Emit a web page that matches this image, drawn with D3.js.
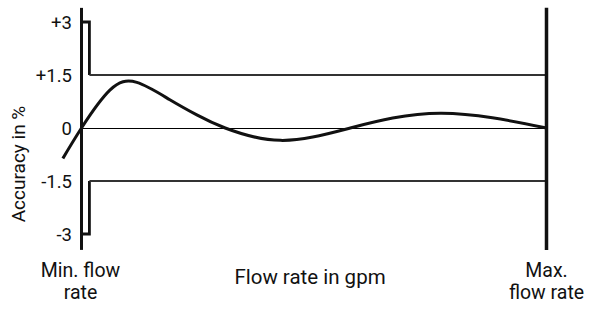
<!DOCTYPE html>
<html><head><meta charset="utf-8">
<script src="https://cdn.jsdelivr.net/npm/d3@7"></script>
<style>html,body{margin:0;padding:0;background:#fff;}svg{display:block;font-family:Roboto,"DejaVu Sans",sans-serif;}</style>
</head><body><svg id="c" width="592" height="311"></svg>
<script>
// Flow position as % of range (0 = min flow rate, 100 = max flow rate)
const curveX = [-4.0, 0, 6.1, 11.9, 19.0, 24.8, 30.9, 42.8, 57.8, 77.2, 100];
const curveY = [-0.86, 0, 1.07, 1.29, 0.80, 0.37, 0, -0.35, 0, 0.42, 0];
const upperLimitX = [0, 1.7, 1.7, 100];
const upperLimitY = [3, 3, 1.5, 1.5];
const lowerLimitX = [0, 1.7, 1.7, 100];
const lowerLimitY = [-3, -3, -1.5, -1.5];
const tickValues = [3, 1.5, 0, -1.5, -3];
const tickLabels = ["+3", "+1.5", "0", "-1.5", "-3"];
const axisExtent = [-3.45, 3.4];
const xLabelsMin = ["Min. flow", "rate"];
const xLabelsMax = ["Max.", "flow rate"];
const xTitle = "Flow rate in gpm";
const yTitle = "Accuracy in %";

const svg = d3.select("#c");
const x = d3.scaleLinear().domain([0, 100]).range([81.5, 546.5]);
const y = d3.scaleLinear().domain([-3, 3]).range([234, 22]);

// zero line
svg.append("line").attr("x1", x(0)).attr("x2", x(100)).attr("y1", y(0) + 0.5).attr("y2", y(0) + 0.5)
  .attr("stroke", "#000").attr("stroke-width", 1);

const line = d3.line().x(d => x(d[0])).y(d => y(d[1]));
// limits
[[upperLimitX, upperLimitY], [lowerLimitX, lowerLimitY]].forEach(([lx, ly]) => {
  const pts = lx.map((v, i) => [v, ly[i]]);
  svg.append("path").attr("d", line(pts.slice(0, 3))).attr("fill", "none")
    .attr("stroke", "#111").attr("stroke-width", 2.8).attr("stroke-linejoin", "miter");
  svg.append("path").attr("d", line(pts.slice(2))).attr("fill", "none")
    .attr("stroke", "#333").attr("stroke-width", 2.2);
});

// curve
const curvePts = curveX.map((v, i) => [v, curveY[i]]);
svg.append("path").attr("d", d3.line().curve(d3.curveNatural).x(d => x(d[0])).y(d => y(d[1]))(curvePts))
  .attr("fill", "none").attr("stroke", "#111").attr("stroke-width", 3);

// axes lines
svg.append("line").attr("x1", x(0)).attr("x2", x(0)).attr("y1", y(axisExtent[1])).attr("y2", y(axisExtent[0]))
  .attr("stroke", "#111").attr("stroke-width", 3);
svg.append("line").attr("x1", x(100)).attr("x2", x(100)).attr("y1", y(axisExtent[1])).attr("y2", y(axisExtent[0]))
  .attr("stroke", "#111").attr("stroke-width", 3.5);

// tick labels
svg.selectAll("text.tick").data(tickValues).enter().append("text")
  .attr("x", 72).attr("y", d => y(d)).attr("dy", "0.36em").attr("text-anchor", "end")
  .attr("font-size", 18.5).attr("fill", "#111").text((d, i) => tickLabels[i]);

// y title
svg.append("text").attr("transform", "translate(25,164) rotate(-90)").attr("text-anchor", "middle")
  .attr("font-size", 19).attr("fill", "#111").text(yTitle);

// x labels
xLabelsMin.forEach((t, i) => svg.append("text").attr("x", x(0) - 1).attr("y", 277 + i * 22)
  .attr("text-anchor", "middle").attr("font-size", 19.5).attr("fill", "#111").text(t));
xLabelsMax.forEach((t, i) => svg.append("text").attr("x", x(100)).attr("y", 277 + i * 22)
  .attr("text-anchor", "middle").attr("font-size", 19.5).attr("fill", "#111").text(t));
svg.append("text").attr("x", 310).attr("y", 284).attr("text-anchor", "middle")
  .attr("font-size", 20.5).attr("fill", "#111").text(xTitle);
</script></body></html>
